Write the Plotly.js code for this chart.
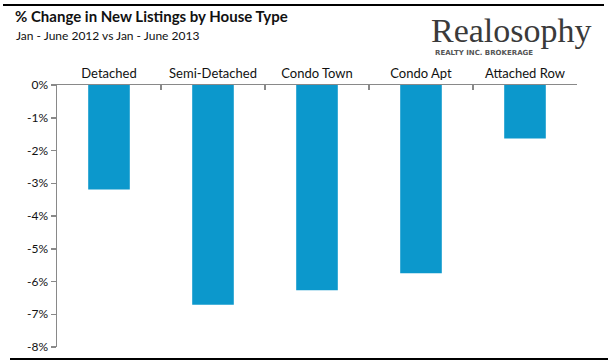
<!DOCTYPE html>
<html>
<head>
<meta charset="utf-8">
<script src="https://cdn.plot.ly/plotly-3.0.1.min.js"></script>
<style>html,body{margin:0;padding:0;background:#fff;}#chart{width:608px;height:363px;}</style>
</head>
<body>
<div id="chart"></div>
<script>
// Data
const categories = ["Detached", "Semi-Detached", "Condo Town", "Condo Apt", "Attached Row"];
const pctChange = [-3.19, -6.71, -6.27, -5.75, -1.63];
const yTickVals = [0, -1, -2, -3, -4, -5, -6, -7, -8];
const yTickLabels = ["0%", "-1%", "-2%", "-3%", "-4%", "-5%", "-6%", "-7%", "-8%"];
const titleText = "% Change in New Listings by House Type";
const subtitleText = "Jan - June 2012 vs Jan - June 2013";
const logoText = "Realosophy";
const logoSubText = "REALTY INC. BROKERAGE";

const W = 608, H = 363;
const mL = 57, mR = 31, mT = 85, mB = 16;
const pw = W - mL - mR, ph = H - mT - mB;
const px = x => (x - mL) / pw;
const py = y => (H - mB - y) / ph;

const font = "Lato, 'Open Sans', sans-serif";

const trace = {
  type: "bar",
  x: categories,
  y: pctChange,
  marker: {color: "#0C98CC"},
  hoverinfo: "none"
};

const layout = {
  width: W, height: H,
  margin: {l: mL, r: mR, t: mT, b: mB},
  paper_bgcolor: "#fff", plot_bgcolor: "#fff",
  showlegend: false,
  bargap: 0.6,
  title: {
    text: "<b>" + titleText + "</b>",
    x: 15 / W, xanchor: "left", xref: "container",
    y: 1 - 17 / H, yanchor: "middle", yref: "container",
    font: {family: font, size: 15, color: "#111"}
  },
  xaxis: {
    type: "category",
    side: "top",
    showline: true, linecolor: "#898989", linewidth: 1.5,
    ticks: "inside", tickson: "boundaries", ticklen: 5, tickwidth: 1.5, tickcolor: "#898989",
    tickfont: {family: font, size: 13, color: "#111"},
    showgrid: false, zeroline: false,
    fixedrange: true
  },
  yaxis: {
    range: [-8, 0],
    tickvals: yTickVals, ticktext: yTickLabels,
    showline: true, linecolor: "#898989", linewidth: 1.5,
    ticks: "outside", ticklen: 5, tickwidth: 1.5, tickcolor: "#898989",
    tickfont: {family: font, size: 12, color: "#111"},
    showgrid: false, zeroline: false,
    fixedrange: true
  },
  shapes: [
    {type: "line", xref: "paper", yref: "paper", x0: px(3), x1: px(604), y0: py(5), y1: py(5),
     line: {color: "#000", width: 2}},
    {type: "line", xref: "paper", yref: "paper", x0: px(10), x1: px(608), y0: py(359), y1: py(359),
     line: {color: "#000", width: 2}}
  ],
  annotations: [
    {text: subtitleText, xref: "paper", yref: "paper", x: px(14), y: py(35),
     xanchor: "left", yanchor: "middle", showarrow: false,
     font: {family: font, size: 12, color: "#111"}},
    {text: logoText, xref: "paper", yref: "paper", x: px(429), y: py(30),
     xanchor: "left", yanchor: "middle", showarrow: false,
     font: {family: "'Liberation Serif', serif", size: 34, color: "#3a3a3a"}},
    {text: "<b>" + logoSubText + "</b>", xref: "paper", yref: "paper", x: px(433), y: py(53),
     xanchor: "left", yanchor: "middle", showarrow: false,
     font: {family: "'DejaVu Sans', sans-serif", size: 7, color: "#555"}}
  ]
};

Plotly.newPlot("chart", [trace], layout, {staticPlot: true, displayModeBar: false});
</script>
</body>
</html>
